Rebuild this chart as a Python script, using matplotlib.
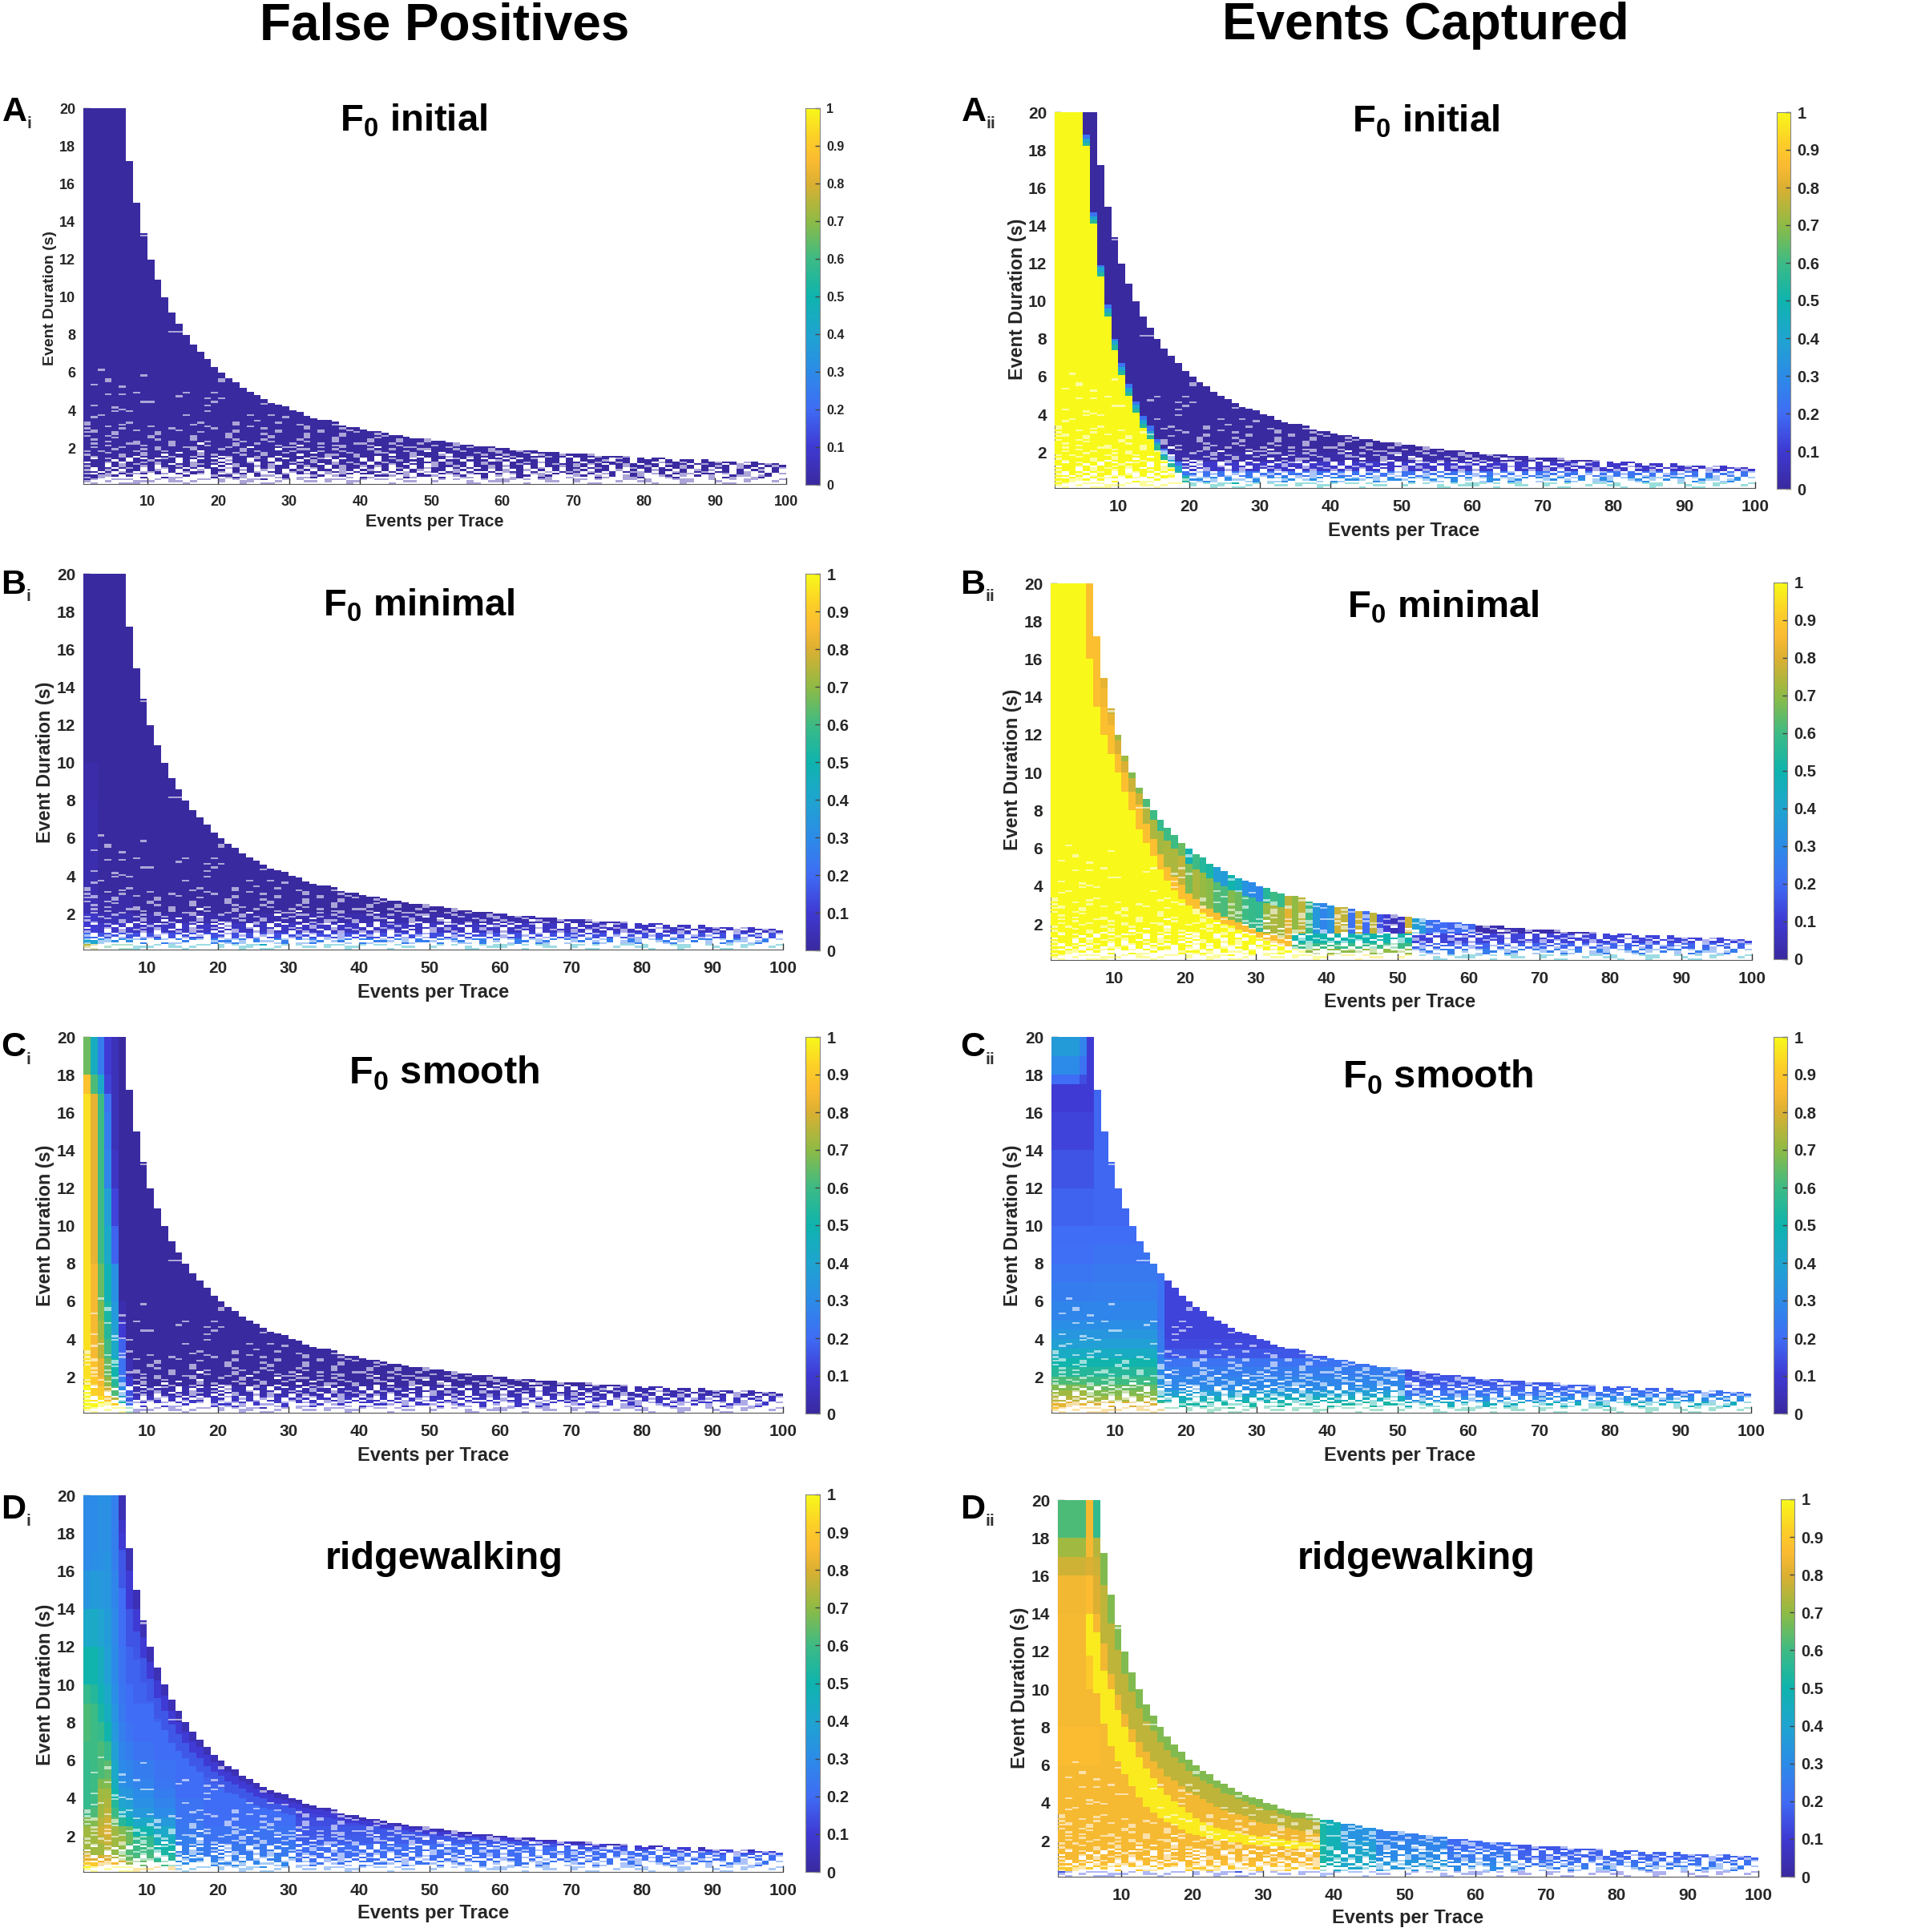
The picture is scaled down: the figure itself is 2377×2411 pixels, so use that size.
import numpy as np
import matplotlib
matplotlib.use('Agg')
import matplotlib.pyplot as plt
from matplotlib.colors import LinearSegmentedColormap

W, H = 2377, 2411
SCALE = 2377 / 1547  # layout numbers below were measured on a smaller copy

plt.rcParams['font.family'] = ['Liberation Sans', 'DejaVu Sans']
plt.rcParams['font.weight'] = 'bold'
plt.rcParams['mathtext.fontset'] = 'custom'
plt.rcParams['mathtext.bf'] = 'Liberation Sans:bold'
plt.rcParams['mathtext.rm'] = 'Liberation Sans:bold'

# colour bar
bar_levels = [0, 0.1, 0.2, 0.3, 0.4, 0.5, 0.6, 0.7, 0.8, 0.86, 0.92, 1]
bar_colors = ['#3a2aa0', '#3f3ad4', '#3f6df5', '#2c8ce8', '#1fa5d0', '#0fb4ae',
              '#3dbb85', '#8fbb45', '#dcb032', '#fbbb32', '#fdcf28', '#f8f91a']

bar_ticks = [0, 0.1, 0.2, 0.3, 0.4, 0.5, 0.6, 0.7, 0.8, 0.9, 1]
bar_labels = ['0', '0.1', '0.2', '0.3', '0.4', '0.5', '0.6', '0.7', '0.8', '0.9', '1']
x_ticks = [10, 20, 30, 40, 50, 60, 70, 80, 90, 100]
y_ticks = [2, 4, 6, 8, 10, 12, 14, 16, 18, 20]

# longest event duration present for events per trace = 1..99
envelope = [20, 20, 20, 20, 20, 20, 17.2, 15.0, 13.4, 12.0, 10.9, 10.0, 9.2, 8.6, 8.0, 7.5, 7.1, 6.7, 6.3, 6.0,
            5.7, 5.5, 5.25, 5.0, 4.8, 4.6, 4.45, 4.3, 4.15, 4.0, 3.9, 3.75, 3.65, 3.55, 3.45, 3.35, 3.25, 3.15, 3.08, 3.0,
            2.93, 2.87, 2.8, 2.73, 2.67, 2.6, 2.55, 2.5, 2.45, 2.4, 2.35, 2.3, 2.27, 2.22, 2.18, 2.14, 2.1, 2.07, 2.03, 2.0,
            1.97, 1.93, 1.9, 1.87, 1.85, 1.82, 1.79, 1.76, 1.74, 1.71, 1.69, 1.67, 1.64, 1.62, 1.6, 1.58, 1.56, 1.54, 1.52, 1.5,
            1.48, 1.46, 1.45, 1.43, 1.41, 1.4, 1.38, 1.36, 1.35, 1.33, 1.32, 1.3, 1.29, 1.28, 1.26, 1.25, 1.24, 1.22, 1.21]

# empty cells, rows 0.1 s apart from 0.1 s upward: # filled, - half empty, . empty
hole_rows = [
    ".-...---......-.......-..--..........-.....-..........--......-........--.......-...-.....--.........-.....",
    "-..-...---..--.-...-..--...-...--.-..--......--..-....-..---.....--..-.....-..--....--...-...-...-...--..",
    "#-..---...-.-...--.-.-.--#..-.-...---..-.--.-.....-.-...-.---.-.--...--.-...--.-...---..-..-.--...-.-....",
    "-#-.....#..#--....#.-#-....-#.--#....-.#-....#-...#..--.#...-#..#-..-...#-..--#...-#....-.#-..-#...--#...",
    "##--#.#.......#...-##.-.#--.#...-#.-#....##-.-.##-..-#..#.-..##.-#...-#.-.#.-#-..-#.-.#.-..#--.-#..#-.#..",
    "-.#-.#--#.#-.#.#-.#.--#.#..#-.#-#.-.-#.##.-.#-.#..#-#.-##.#.-#.--.#.#-.#.-#..#-.-#.#--.##.-.#-..#.-#.#-.",
    "##.#.-#.--#.#.-##.#-.#.#-.##.-#.#.-#-.#.##.#.-#.-#.#-.#..#.-##.#.-.#-#.-#.#.#--#.#.-#.#-.##.#-.#.#.-#.#.",
    "-.#-#.##.#-.#.#.-.##.#-#.-.#.#-#.##.-#.#-.#.#.#-.##.-#.##.#-.#-.#.#.#-#.##.-.#.#-##.#.-#-.#.#.#-.#.-#.#",
    "#.##.#-#.#.-##.#.##.-#.#.#-##.#.-#.#-##.#.#.-#.#-##.#.#.#-#.##.#-.#.##.#-#.#.-##.#.#-#.#.##.-#.#.#-#.#.#",
    "-##.#-##-#.##-#-##.#.-##-#-##.#-##.#-##-#-#.##.#.-##-#.##-#-##.#.##-#-#.##.#-##-#.##-#.##-#.-##.#-#-##.#",
    "###.#-#-##-#.##--##.#-##.#-.##-##.#-##-#.##-#.##.-#-##.#-##.#-##.#-##-#-#.##-#.##.-##.#-##.#-.##-#.##.##",
    ".##-#.##-#-##.#-##-#.##-.##.#-##-##-#-##.#-###.##-#-##.#-##.##-#-##.##.#-##-#.##.-##-#.##-##.-#.##-#.##",
    "####.#.##-###.#.###.-##.##.###.#-##.###.#.##-###.#.##.###.-#.###.##.#.###-.##.###.#.##.###.-##.##.###.#.",
    "#.#-##.#.#.-#.##.#.#.##.-#.#.##.#-.#.##.#.#-##.#.##.-#.#.##.#.#-.##.#.#.##.-#.#.##.#.-#.##.#.#.#.-##.#.#",
    "#-###-#.####-##-###.-###-##.####-#-###-##.####-.###-##-###.#-####-##.###-###-##-#",
    "-####-##-##.####-#-###-##-####.###--##-####.##-###-.####-##-###.-##-###-####-#-##",
    "###-####-####.##-####-###-##-###.####-###--###-###.####-##-###-####.##-###-####",
    "-#-####-###-####.#####-#-####-###-##-####-###-##.####-###--##-####-###-#",
    "####-###-#-####-###-##-####.##--###-####-##-###--###-####-##.###--####-#",
    "#-###-####-###--####-##.####--###-##-####.###--####-##-###-##",
    "###-####-###-####-###-#####-##.####--###-###-####-##-###-###",
    "#-####--####-###.####-##-####-###-####--###-###-####-###",
    "###-###-####-####-####-###-####-###-####-###-###-###",
    "#-########-####-#####-###-####-####-####-###-###-#",
    "####-####-#####-####-#####-####-###-#####-####-###",
    "-##-#####-#####-####-#####-####-####-#####-####",
    "####-#####-#########-####-#####-####-####-###",
    "--##-#####-#####-####-#####-#####-####-####",
    "#-#####-#####-#######-#####-#####-###-#####",
    "-####-######-#####-######-#####-####-####",
    "###-#####-#######-#####-#######-#####-###",
    "-####-#########-#####-########-####-###",
    "-#####-#########-##########-########",
]

# single empty cells further up
hole_cols = [3, 4, 4, 2, 6, 9, 4, 6, 8, 9, 10, 14, 15, 18, 19, 20, 19, 18, 18, 2, 5, 6, 7, 2, 3, 5, 15, 20, 20, 25, 26, 24, 29, 27, 25, 22, 13, 9, 14]
hole_durs = [6.1, 5.6, 5.5, 5.3, 5.2, 5.8, 4.8, 4.8, 4.9, 4.4, 4.4, 4.7, 4.9, 4.6, 4.9, 4.6, 4.4, 4.2, 3.9, 4.2, 4.1, 4.0, 3.9, 3.6, 3.7, 3.9, 3.7, 5.5, 5.6, 5.0, 4.3, 3.7, 3.6, 3.7, 3.4, 3.3, 8.1, 13.2, 8.1]

# value tables: one row per column group, entries per duration bin
dur_edges = [0.1, 0.4, 0.7, 1, 1.5, 2, 3, 4, 5, 6, 8, 10, 12, 14, 16, 17, 18]
fine_edges = [0.1, 0.4, 0.7, 1, 1.3, 1.6, 2, 2.5, 3, 3.5, 4, 4.5, 5, 6, 7, 8, 9, 10, 12, 14, 16, 17, 17.5, 18, 19]

a1_cols = [99]
a1_table = [[0]]

b1_cols = [2, 7, 99]
b1_table = [[.75, .4, .2, .1, .08, .04, .03, .03, .03, .03, .02, 0],
            [.6, .3, .15, .08, .05, .02, 0],
            [.45, .25, .14, .07, .03, 0]]

c1_cols = [1, 2, 3, 4, 5, 6, 7, 99]
c1_table = [[1, 1, 1, 1, .96, .95, .95, .95, .95, .95, .95, .95, .95, .95, .95, .88, .66],
            [1, 1, .96, .92, .9, .88, .85, .85, .85, .85, .82, .82, .82, .82, .82, .62, .45],
            [1, 1, .95, .9, .85, .82, .75, .72, .68, .65, .6, .6, .6, .6, .6, .42, .25],
            [1, .98, .88, .78, .7, .65, .6, .55, .52, .48, .42, .38, .28, .25, .22, .12, .1],
            [1, .92, .75, .62, .55, .5, .42, .38, .35, .32, .18, .12, .07, .05, .05, .05, .05],
            [1, .5, .38, .3, .25, .22, .18, .1, .03, 0],
            [.6, .2, .15, .15, .1, .04, 0],
            [.05, .08, .06, .03, 0]]

c2_cols = [4, 5, 6, 15, 16, 50, 99]
c2_table = [[.87, .82, .75, .72, .68, .62, .55, .5, .44, .38, .34, .31, .28, .25, .23, .21, .2, .18, .15, .12, .1, .1, .2, .3, .36],
            [.87, .82, .75, .72, .68, .62, .55, .5, .44, .38, .34, .31, .28, .25, .23, .21, .2, .18, .15, .12, .1, .1, .14, .22, .27],
            [.85, .8, .72, .68, .65, .6, .55, .5, .44, .38, .34, .31, .28, .25, .23, .21, .2, .18, .15, .12, .1, .1, .1, .1, .1],
            [.85, .8, .72, .68, .65, .6, .55, .5, .44, .38, .34, .31, .28, .26, .24, .22, .2, .19],
            [.8, .6, .5, .42, .36, .33, .3, .28, .26, .25, .24, .22],
            [.58, .52, .46, .38, .3, .28, .25, .22, .16, .13, .12],
            [.55, .45, .3, .22, .18, .16, .14]]

d1_cols = [1, 2, 3, 4, 5, 6, 7, 10, 13, 17, 30, 99]
d1_table = [[1, .9, .82, .76, .72, .72, .72, .68, .6, .58, .58, .58, .58, .6, .62, .62, .58, .5, .42, .34, .3, .3, .3, .3, .3],
            [1, .9, .8, .72, .72, .72, .72, .68, .62, .6, .6, .6, .6, .6, .6, .6, .55, .5, .43, .36, .31, .3, .3, .3, .3],
            [1, .85, .8, .72, .72, .75, .78, .75, .72, .72, .72, .68, .62, .62, .58, .52, .48, .45, .4, .35, .32, .32, .32, .32, .32],
            [1, .85, .8, .72, .75, .78, .8, .78, .76, .74, .72, .68, .64, .58, .5, .45, .42, .38, .36, .34, .33, .32, .32, .32, .32],
            [1, .85, .75, .7, .72, .72, .72, .65, .6, .55, .5, .45, .42, .38, .35, .33, .31, .3, .29, .28, .26, .26, .26, .26, .26],
            [1, .8, .7, .65, .7, .72, .68, .55, .45, .4, .35, .32, .3, .28, .26, .24, .23, .22, .21, .2, .2, .15, .12, .08, .06],
            [1, .7, .65, .62, .62, .66, .65, .5, .42, .38, .34, .3, .28, .25, .22, .2, .2, .18, .15, .1],
            [.9, .65, .62, .6, .6, .58, .5, .42, .35, .32, .3, .27, .25, .22, .2, .2, .18, .18, .15],
            [.85, .6, .55, .52, .5, .45, .42, .35, .3, .27, .25, .23, .22, .2, .2, .18],
            [.35, .3, .28, .26, .26, .26, .24, .23, .22, .22, .2, .2, .2, .2, .18],
            [.3, .28, .26, .24, .24, .22, .22, .2, .2, .2, .2, .18],
            [.25, .22, .2, .2, .2, .17, .16, .14, .12]]
d1_cap_fracs = [0.75, 0.85, 0.93]
d1_cap_vals = [0.16, 0.1, 0.04]

# Aii: top of the yellow area for columns 5..19, then what sits right of it
a2_yellow_top = [18.2, 14.1, 11.3, 9.2, 7.4, 6.1, 5.0, 4.1, 3.3, 2.7, 2.1, 1.6, 1.2, 0.8, 0.4]
a2_step_vals = [0.55, 0.4, 0.22]
a2_low = [.5, .3, .22, .08, .02, 0]

# Bii: columns 6.. yellow top, orange top, value of what is above
b2_yellow_top = [16, 13.5, 12, 11, 10, 9, 8, 7, 6.3, 5.6, 4.9, 4.3, 3.8, 3.3, 3.0, 2.8, 2.6, 2.4, 2.2, 2.0, 1.85, 1.7, 1.55,
                 1.4, 1.25, 1.1, .95, .85, .75, .65, .55, .45, .4, .35, .3]
b2_orange_top = [20, 17.2, 13.5, 12.5, 11, 10, 9, 8.3, 7.3, 6.5, 5.7, 5, 4.5, 4.1, 3.6, 3.3, 3.0, 2.8, 2.6, 2.4, 2.2, 2.05, 1.9,
                 1.75, 1.6, 1.45, 1.35, 1.25, 1.15]
b2_top_vals = [.86, .86, .82, .78, .72, .72, .68, .68, .62, .6, .58, .6, .6, .66, .48, .6, .55, .52, .38, .36, .5, .45, .33, .3, .28,
               .55, .6, .58, .76, .7, .76, .6, .35, .28, .33, .78, .76, .22, .78, .2, .76, .15, .1, .05, .08, .78,
               .38, .35, .22, .2, .2, .18, .2, .2, .18, .03, .03, .04, .03, .03, .05, .03, .05, .03, .03,
               .02, .03, .03, .02, .05, .03, .03, .02, .03, .03, .04, .03, .03, .02, .03, .03, .03, .02, .03, .03, .04, .03, .03, .02, .03, .03, .03, .02, .03]
b2_low = [.45, .25, .18, .12]
b2_low_mid = [.95, .7, .6, .5]

# Dii: yellow ridge for columns 5..37, and the table it is laid on
d2_ridge_low = [11.8, 9.8, 8.2, 7.0, 6.2, 5.5, 4.9, 4.3, 3.8, 3.5, 3.2, 3.0, 2.8, 2.6, 2.4, 2.25, 2.15, 2.05, 2.0, 1.95, 1.9, 1.85, 1.8, 1.8, 1.75,
                1.7, 1.7, 1.65, 1.6, 1.6, 1.6, 1.6, 1.6]
d2_ridge_high = [14, 13, 11, 10, 8.9, 8.0, 7.2, 6.4, 5.8, 5.3, 4.8, 4.4, 4.1, 3.8, 3.5, 3.2, 3.0, 2.8, 2.7, 2.6, 2.5, 2.4, 2.3, 2.25, 2.2,
                 2.15, 2.1, 2.05, 2.0, 1.95, 1.9, 1.85, 1.85]
d2_cols = [4, 5, 6, 37, 38, 40, 45, 55, 65, 99]
d2_table = [[.15, .9, .86, .85, .85, .85, .85, .85, .85, .86, .85, .85, .85, .84, .78, .72, .62],
            [.15, .9, .86, .85, .85, .85, .85, .85, .85, .86, .85, .9, .96, .86, .8, .85, .85],
            [.15, .9, .86, .85, .85, .85, .85, .85, .85, .86, .85, .85, .85, .8, .78, .75, .58],
            [.15, .9, .86, .85],
            [.2, .55, .52, .52],
            [.2, .45, .47, .48, .48, .47, .45],
            [.2, .42, .42, .42, .38, .33, .3],
            [.15, .35, .35, .3, .28, .26, .25],
            [.15, .3, .28, .24, .2, .18],
            [.12, .25, .22, .18, .16, .15]]
d2_top_fracs = [0.72, 0.9]
d2_top_vals = [0.76, 0.68]

cols = np.arange(1, 100)
dur_lo = np.arange(1, 200) / 10
x_edges = np.arange(1, 101)
y_edges = np.arange(1, 201) / 10
env = np.array(envelope)


def from_table(col_tops, table, edges=dur_edges):
    vals = np.zeros((len(dur_lo), len(cols)))
    for j, c in enumerate(cols):
        row = table[np.searchsorted(col_tops, c)]
        row = row + [row[-1]] * (len(edges) - len(row))
        for i, d in enumerate(dur_lo):
            vals[i, j] = row[np.searchsorted(edges, d + 1e-6, side='right') - 1]
    return vals


def cap_near_top(vals):
    out = vals.copy()
    for j in range(5, len(cols)):
        for frac, v in zip(d1_cap_fracs, d1_cap_vals):
            rows = dur_lo > frac * env[j]
            out[rows, j] = np.minimum(out[rows, j], v)
    return out


def panel_a2():
    vals = np.zeros((len(dur_lo), len(cols)))
    for i, v in enumerate(a2_low):
        vals[(dur_lo >= dur_edges[i]) & (dur_lo < dur_edges[i + 1]), :] = v
    vals[:, :4] = 1
    for k, top in enumerate(a2_yellow_top):
        j = k + 4
        vals[dur_lo < top, j] = 1
        for s, v in enumerate(a2_step_vals):
            rows = (dur_lo >= top + 0.2 * s) & (dur_lo < top + 0.2 * (s + 1))
            vals[rows, j] = v
    return vals


def panel_b2():
    vals = np.zeros((len(dur_lo), len(cols)))
    vals[:, :5] = 1
    for k, v in enumerate(b2_top_vals):
        j = k + 5
        vals[:, j] = v
        low = b2_low_mid if 25 <= k < 46 else b2_low
        for i, lv in enumerate(low):
            if k >= 25:
                vals[(dur_lo >= dur_edges[i]) & (dur_lo < dur_edges[i + 1]), j] = lv
        if k < len(b2_orange_top):
            # a step between the orange and the column's own colour
            vals[dur_lo < env[j] - 0.35 * (env[j] - b2_orange_top[k]), j] = (v + 0.87) / 2
            vals[dur_lo < b2_orange_top[k], j] = 0.87
        if k < len(b2_yellow_top):
            vals[dur_lo < b2_yellow_top[k], j] = 1
    return vals


def panel_d2():
    vals = from_table(d2_cols, d2_table)
    for k, (lo, hi) in enumerate(zip(d2_ridge_low, d2_ridge_high)):
        j = k + 4
        vals[(dur_lo >= lo) & (dur_lo < hi), j] = 0.97
        if j >= 6:
            vals[dur_lo >= hi, j] = 0.84
            for frac, v in zip(d2_top_fracs, d2_top_vals):
                rows = (dur_lo >= frac * env[j]) & (dur_lo >= hi)
                vals[rows, j] = v
    return vals


def build_masks():
    empty = np.zeros((len(dur_lo), len(cols)), dtype=bool)
    pale = np.zeros((len(dur_lo), len(cols)), dtype=bool)
    for i, row in enumerate(hole_rows):
        row = row.ljust(len(cols), '#')[:len(cols)]
        for j, ch in enumerate(row):
            empty[i, j] = ch == '.'
            pale[i, j] = ch == '-'
    for c, d in zip(hole_cols, hole_durs):
        pale[int(round(d * 10)) - 1, c - 1] = True
    outside = np.array([[d + 0.05 >= env[j] for j in range(len(cols))] for d in dur_lo])
    return empty | outside, pale


empty, pale = build_masks()
parula = LinearSegmentedColormap.from_list('parula', list(zip(bar_levels, bar_colors)))

panels = [
    dict(vals=from_table(a1_cols, a1_table), box=(104, 981, 135, 604), bar=(1005, 1023, 135, 605),
         title=r'F$_{\mathbf{0}}$ initial', tpos=(336, 98), tsize=34, letter='A', sub='i', lpos=(2, 98),
         ylab=(41, 242), xlab=(353, 424), tick=13, bar_tick=11.5, ysize=14, xsize=15.5),
    dict(vals=panel_a2(), box=(1316, 2190, 140, 609), bar=(2217, 2234, 140, 610),
         title=r'F$_{\mathbf{0}}$ initial', tpos=(1158, 99), tsize=34, letter='A', sub='ii', lpos=(781, 98),
         ylab=(826, 243), xlab=(1140, 431), tick=15, bar_tick=14.5, ysize=16.8, xsize=17),
    dict(vals=from_table(b1_cols, b1_table), box=(104, 977, 716, 1185), bar=(1005, 1023, 716, 1186),
         title=r'F$_{\mathbf{0}}$ minimal', tpos=(340, 492), tsize=34, letter='B', sub='i', lpos=(1, 482),
         ylab=(37, 619), xlab=(352, 806), tick=15, bar_tick=14.5, ysize=16.8, xsize=17),
    dict(vals=panel_b2(), box=(1311, 2186, 728, 1198), bar=(2213, 2230, 727, 1197),
         title=r'F$_{\mathbf{0}}$ minimal', tpos=(1172, 493), tsize=34, letter='B', sub='ii', lpos=(780, 482),
         ylab=(822, 625), xlab=(1137, 814), tick=15, bar_tick=14.5, ysize=16.8, xsize=17),
    dict(vals=from_table(c1_cols, c1_table), box=(104, 977, 1294, 1763), bar=(1005, 1023, 1294, 1764),
         title=r'F$_{\mathbf{0}}$ smooth', tpos=(361, 872), tsize=35, letter='C', sub='i', lpos=(1, 858),
         ylab=(37, 995), xlab=(352, 1182), tick=15, bar_tick=14.5, ysize=16.8, xsize=17),
    dict(vals=from_table(c2_cols, c2_table, fine_edges), box=(1312, 2185, 1294, 1763), bar=(2213, 2230, 1294, 1764),
         title=r'F$_{\mathbf{0}}$ smooth', tpos=(1168, 875), tsize=35, letter='C', sub='ii', lpos=(780, 858),
         ylab=(822, 995), xlab=(1137, 1182), tick=15, bar_tick=14.5, ysize=16.8, xsize=17),
    dict(vals=cap_near_top(from_table(d1_cols, d1_table, fine_edges)), box=(104, 977, 1866, 2336), bar=(1005, 1023, 1865, 2336),
         title='ridgewalking', tpos=(361, 1266), tsize=35, letter='D', sub='i', lpos=(1, 1233),
         ylab=(37, 1368), xlab=(352, 1554), tick=15, bar_tick=14.5, ysize=16.8, xsize=17),
    dict(vals=panel_d2(), box=(1320, 2194, 1872, 2342), bar=(2222, 2239, 1871, 2342),
         title='ridgewalking', tpos=(1150, 1266), tsize=35, letter='D', sub='ii', lpos=(780, 1233),
         ylab=(828, 1371), xlab=(1143, 1558), tick=15, bar_tick=14.5, ysize=16.8, xsize=17),
]

fig = plt.figure(figsize=(W / 100, H / 100), dpi=100, facecolor='white')


def place(xp, yp):
    return xp * SCALE / W, 1 - yp * SCALE / H


for p in panels:
    left, right, top, bottom = p['box']
    ax = fig.add_axes([left / W, 1 - bottom / H, (right - left) / W, (bottom - top) / H])
    solid = np.ma.masked_where(empty | pale, p['vals'])
    half = np.ma.masked_where(empty | ~pale, p['vals'])
    ax.pcolormesh(x_edges, y_edges, solid, cmap=parula, vmin=0, vmax=1, linewidth=0, zorder=2)
    ax.pcolormesh(x_edges, y_edges, half, cmap=parula, vmin=0, vmax=1, alpha=0.42, linewidth=0, zorder=2)
    ax.set_xlim(1, 100)
    ax.set_ylim(0.1, 20)
    ax.set_xticks(x_ticks)
    ax.set_yticks(y_ticks)
    ax.set_axisbelow(True)
    ax.tick_params(direction='in', length=6, width=1, color='#333333', labelcolor='#262626',
                   labelsize=p['tick'], pad=7)
    ax.tick_params(axis='x', pad=10)
    for s in ['top', 'right']:
        ax.spines[s].set_visible(False)
    for s in ['left', 'bottom']:
        ax.spines[s].set_color('#555555')
        ax.spines[s].set_zorder(1)

    b_left, b_right, b_top, b_bottom = p['bar']
    cax = fig.add_axes([b_left / W, 1 - b_bottom / H, (b_right - b_left) / W, (b_bottom - b_top) / H])
    grad = np.linspace(0, 1, 256).reshape(-1, 1)
    cax.imshow(grad, cmap=parula, vmin=0, vmax=1, origin='lower', aspect='auto', extent=(0, 1, 0, 1))
    cax.set_xticks([])
    cax.yaxis.tick_right()
    cax.set_yticks(bar_ticks)
    cax.set_yticklabels(bar_labels)
    cax.tick_params(direction='in', length=4, width=1, color='#444444', labelcolor='#262626',
                    labelsize=p['bar_tick'], pad=6)
    for s in cax.spines.values():
        s.set_color('#888888')
        s.set_linewidth(0.8)

    x, y = place(*p['tpos'])
    fig.text(x, y, p['title'], fontsize=p['tsize'], ha='center', va='center', color='black')
    x, y = place(*p['ylab'])
    fig.text(x, y, 'Event Duration (s)', fontsize=p['ysize'], rotation=90, ha='center', va='center', color='#262626')
    x, y = place(*p['xlab'])
    fig.text(x, y, 'Events per Trace', fontsize=p['xsize'], ha='center', va='center', color='#262626')
    x, y = place(*p['lpos'])
    fig.text(x, y, p['letter'], fontsize=31, ha='left', va='baseline', color='black')
    x, y = place(p['lpos'][0] + 20, p['lpos'][1] + 6)
    fig.text(x, y, p['sub'], fontsize=15, ha='left', va='baseline', color='#333333')

x, y = place(361, 21)
fig.text(x, y, 'False Positives', fontsize=46, ha='center', va='center', color='black')
x, y = place(1158, 21)
fig.text(x, y, 'Events Captured', fontsize=46, ha='center', va='center', color='black')

fig.savefig('out.png', dpi=100)
